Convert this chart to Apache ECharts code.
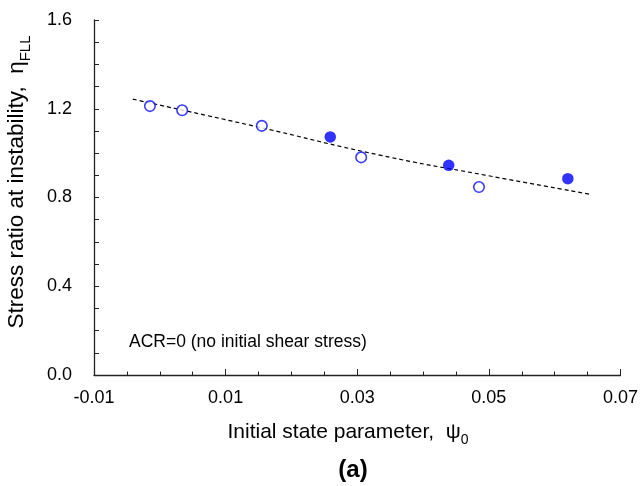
<!DOCTYPE html>
<html>
<head>
<meta charset="utf-8">
<script src="https://cdn.jsdelivr.net/npm/echarts@6/dist/echarts.min.js"></script>
<style>
html,body{margin:0;padding:0;background:#fff;}
#c{width:641px;height:486px;}
</style>
</head>
<body>
<div id="c"></div>
<script>
// Data
const openX = [-0.0015, 0.0034, 0.0155, 0.0306, 0.0485];
const openY = [1.212, 1.193, 1.123, 0.981, 0.847];
const filledX = [0.0259, 0.0439, 0.0620];
const filledY = [1.073, 0.945, 0.885];
const trendX = [-0.0041, 0.0149, 0.0336, 0.0494, 0.0655];
const trendY = [1.243, 1.118, 0.990, 0.901, 0.814];
const xTicks = [-0.01, 0.01, 0.03, 0.05, 0.07];
const yTicks = [0.0, 0.4, 0.8, 1.2, 1.6];
const annotation = 'ACR=0 (no initial shear stress)';

const FONT = '"Liberation Sans", Arial, sans-serif';
const zip = (xs, ys) => xs.map((x, i) => [x, ys[i]]);

const chart = echarts.init(document.getElementById('c'), null, {renderer: 'canvas'});
chart.setOption({
  animation: false,
  backgroundColor: '#fff',
  grid: {left: 94, right: 19, top: 20, bottom: 111, containLabel: false},
  xAxis: {
    type: 'value', min: -0.01, max: 0.07, interval: 0.02,
    axisLine: {show: true, onZero: false, lineStyle: {color: '#222', width: 1.3}},
    axisTick: {show: true, inside: true, length: 6, lineStyle: {color: '#222', width: 1}},
    minorTick: {show: true, splitNumber: 4, length: 3.5, lineStyle: {color: '#222', width: 1}},
    splitLine: {show: false},
    axisLabel: {
      margin: 14, color: '#000', fontSize: 18, fontFamily: FONT,
      formatter: v => { const t = xTicks.find(k => Math.abs(k - v) < 1e-9); return t === undefined ? '' : t.toFixed(2); }
    }
  },
  yAxis: {
    type: 'value', min: 0, max: 1.6, interval: 0.4,
    axisLine: {show: true, onZero: false, lineStyle: {color: '#222', width: 1.3}},
    axisTick: {show: true, inside: true, length: 5, lineStyle: {color: '#222', width: 1}},
    minorTick: {show: true, splitNumber: 4, length: 5, lineStyle: {color: '#222', width: 1}},
    splitLine: {show: false},
    axisLabel: {
      margin: 22, color: '#000', fontSize: 18, fontFamily: FONT,
      formatter: v => { const t = yTicks.find(k => Math.abs(k - v) < 1e-9); return t === undefined ? '' : t.toFixed(1); }
    }
  },
  series: [
    {
      type: 'line', data: zip(trendX, trendY), smooth: true, symbol: 'none',
      lineStyle: {color: '#000', width: 1.2, type: [4, 3]}, z: 2
    },
    {
      type: 'scatter', data: zip(openX, openY), symbol: 'circle', symbolSize: 10.5,
      itemStyle: {color: '#fff', borderColor: '#0a0aff', borderWidth: 1.6}, z: 3
    },
    {
      type: 'scatter', data: zip(filledX, filledY), symbol: 'circle', symbolSize: 11.5,
      itemStyle: {color: '#0000ff'}, z: 3
    }
  ],
  graphic: [
    {
      type: 'text', left: 129, top: 333,
      style: {text: annotation, fill: '#000', font: '17.5px ' + FONT}
    },
    {
      type: 'text', x: 348, y: 437,
      style: {
        text: '{m|Initial state parameter,  ψ}{s|0}',
        align: 'center', verticalAlign: 'middle',
        rich: {
          m: {fontSize: 21, fontFamily: FONT, fill: '#000', verticalAlign: 'bottom', lineHeight: 21, padding: [0, 0, 5, 0]},
          s: {fontSize: 14, fontFamily: FONT, fill: '#000', verticalAlign: 'bottom', lineHeight: 14}
        }
      }
    },
    {
      type: 'text', x: 353, y: 470,
      style: {text: '(a)', align: 'center', verticalAlign: 'middle', font: 'bold 24px ' + FONT, fill: '#000'}
    },
    {
      type: 'text', x: 22, y: 182, rotation: Math.PI / 2,
      style: {
        text: '{m|Stress ratio at instability,  η}{s|FLL}',
        align: 'center', verticalAlign: 'middle',
        rich: {
          m: {fontSize: 22.5, fontFamily: FONT, fill: '#000', verticalAlign: 'bottom', lineHeight: 22, padding: [0, 0, 5, 0]},
          s: {fontSize: 15, fontFamily: FONT, fill: '#000', verticalAlign: 'bottom', lineHeight: 15}
        }
      }
    }
  ]
});
</script>
</body>
</html>
